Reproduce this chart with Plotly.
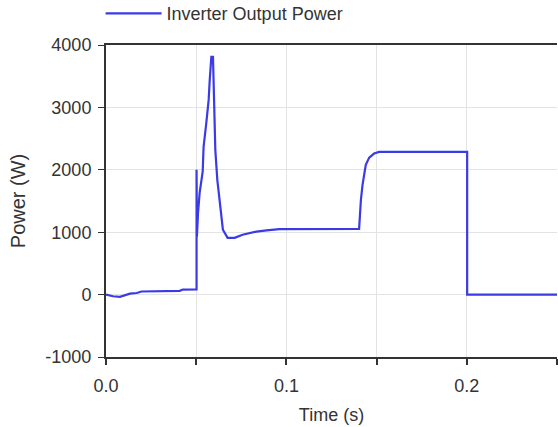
import plotly.graph_objects as go

# Inverter output power vs. time (simulation trace)
time_s = [
    0.0, 0.0039, 0.0077, 0.0105, 0.0133, 0.0170, 0.0197, 0.0409, 0.0425, 0.0502,
    0.0502, 0.0504, 0.0510, 0.0519, 0.0536, 0.0541, 0.0556, 0.0569, 0.0575, 0.0584,
    0.0593, 0.0598, 0.0606, 0.0617, 0.0630, 0.0639, 0.0648, 0.0674, 0.0713, 0.0757,
    0.0796, 0.0834, 0.0890, 0.0961, 0.1403, 0.1405, 0.1413, 0.1422, 0.1431, 0.1440,
    0.1459, 0.1486, 0.1514, 0.2002, 0.2002, 0.25,
]
power_w = [
    0, -27, -35, -10, 15, 25, 50, 60, 80, 85,
    2000, 930, 1300, 1630, 1970, 2370, 2750, 3120, 3440, 3810,
    3810, 3010, 2320, 1840, 1520, 1250, 1040, 910, 910, 960,
    990, 1010, 1030, 1050, 1053, 1200, 1520, 1760, 1950, 2080,
    2195, 2260, 2287, 2287, 0, 0,
]

x_tick_vals = [0.0, 0.05, 0.1, 0.15, 0.2, 0.25]
x_tick_text = ["0.0", "", "0.1", "", "0.2", ""]
y_tick_vals = [-1000, 0, 1000, 2000, 3000, 4000]
y_tick_text = ["-1000", "0", "1000", "2000", "3000", "4000"]

fig = go.Figure()
fig.add_trace(go.Scatter(
    x=time_s, y=power_w, mode="lines",
    name="Inverter Output Power",
    line=dict(color="#3a3ae6", width=2.2),
))

base_font = dict(family="Liberation Sans, Arial, sans-serif", size=18, color="#333333")

fig.update_layout(
    width=558, height=427,
    margin=dict(l=106, r=1, t=45, b=70, autoexpand=False),
    paper_bgcolor="white", plot_bgcolor="white",
    font=base_font,
    showlegend=True,
    legend=dict(
        x=-0.012, y=1.16, xanchor="left", yanchor="top",
        orientation="h", itemwidth=56,
        font=base_font,
        bgcolor="rgba(0,0,0,0)",
    ),
    xaxis=dict(
        range=[0, 0.25], tickvals=x_tick_vals, ticktext=x_tick_text,
        showgrid=True, gridcolor="#e3e3e3", gridwidth=1,
        showline=True, linecolor="#333333", linewidth=2, mirror=True,
        ticks="outside", ticklen=6, tickcolor="#333333", tickwidth=2,
        ticklabelstandoff=5,
        title=dict(text="Time (s)", standoff=14, font=dict(size=18)),
        zeroline=False,
    ),
    yaxis=dict(
        range=[-1000, 4000], tickvals=y_tick_vals, ticktext=y_tick_text,
        showgrid=True, gridcolor="#e3e3e3", gridwidth=1,
        showline=True, linecolor="#333333", linewidth=2,
        ticks="outside", ticklen=6, tickcolor="#333333", tickwidth=1,
        ticklabelstandoff=3,
        title=dict(text="Power (W)", standoff=14, font=dict(size=20)),
        zeroline=False,
    ),
)

fig.write_html("out.html")
